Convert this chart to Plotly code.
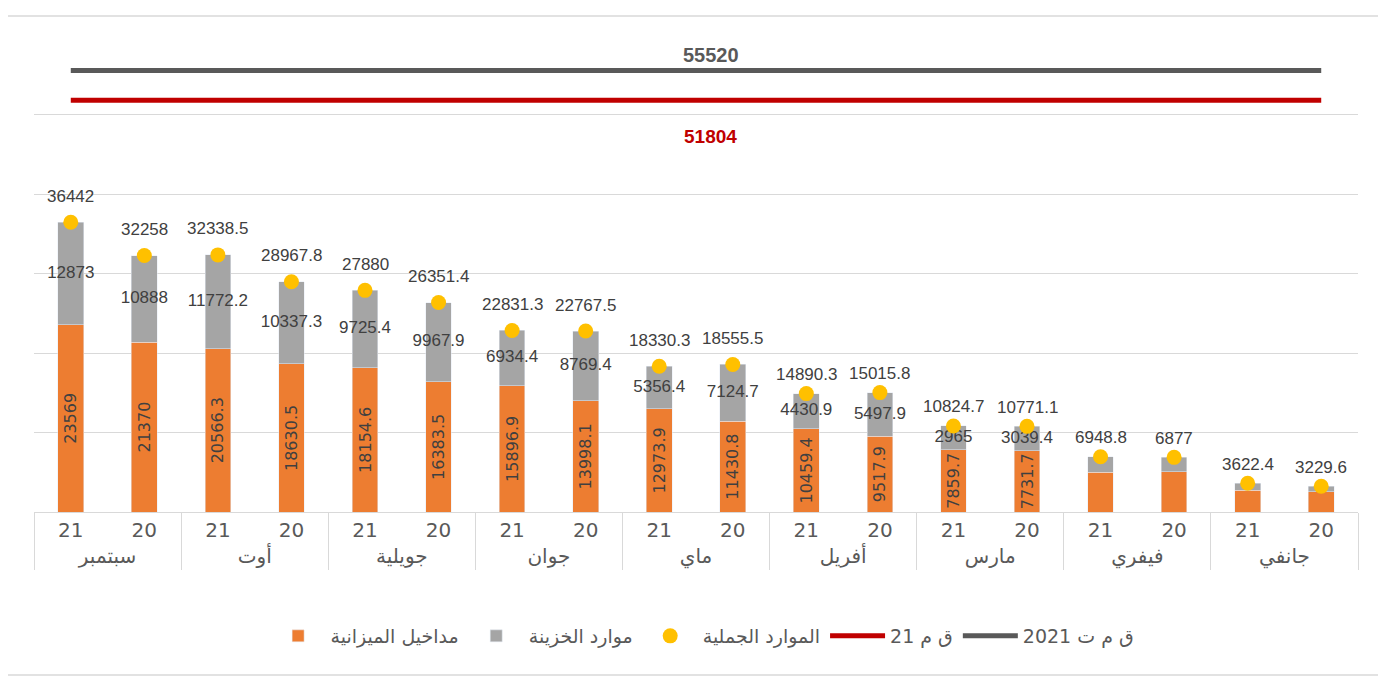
import plotly.graph_objects as go

# months shown right-to-left in the original (Sep .. Jan), years 21 / 20
months = ["سبتمبر", "أوت", "جويلية", "جوان", "ماي", "أفريل", "مارس", "فيفري", "جانفي"]
years = ["21", "20"]

# مداخيل الميزانية (budget revenue) per bar, in display order
budget = [23569, 21370, 20566.3, 18630.5, 18154.6, 16383.5, 15896.9, 13998.1,
          12973.9, 11430.8, 10459.4, 9517.9, 7859.7, 7731.7, 5000, 5040, 2740, 2560]
# موارد الخزينة (treasury resources)
treasury = [12873, 10888, 11772.2, 10337.3, 9725.4, 9967.9, 6934.4, 8769.4,
            5356.4, 7124.7, 4430.9, 5497.9, 2965, 3039.4, 1948.8, 1837, 882.4, 669.6]
# الموارد الجملية (total)
total = [36442, 32258, 32338.5, 28967.8, 27880, 26351.4, 22831.3, 22767.5,
         18330.3, 18555.5, 14890.3, 15015.8, 10824.7, 10771.1, 6948.8, 6877, 3622.4, 3229.6]
# which bars carry a label for the stacked parts
show_part_label = [True] * 14 + [False] * 4

lf_2021 = 55520   # ق م ت 2021
lf_21 = 51804     # ق م 21

outer = [m for m in months for _ in years]
inner = [y for _ in months for y in years]
x = [outer, inner]

def fmt(v):
    return f"{v:g}"

budget_txt = [fmt(v) if s else "" for v, s in zip(budget, show_part_label)]
treas_txt = [fmt(v) if s else "" for v, s in zip(treasury, show_part_label)]
total_txt = [fmt(v) for v in total]
treas_mid = [b + t / 2 for b, t in zip(budget, treasury)]

LBL = dict(family="Liberation Sans Narrow, Arial Narrow, Arial", size=17, color="#404040")

fig = go.Figure()
fig.add_trace(go.Bar(x=x, y=budget, name="مداخيل الميزانية", marker_color="#ED7D31",
                     width=0.35, text=budget_txt, texttemplate="%{text}",
                     textposition="inside", insidetextanchor="middle", textangle=-90,
                     insidetextfont=dict(family="DejaVu Sans, Arial", size=16, color="#404040"),
                     constraintext="none"))
fig.add_trace(go.Bar(x=x, y=treasury, name="موارد الخزينة", marker_color="#A5A5A5",
                     width=0.35, textposition="none"))
fig.add_trace(go.Scatter(x=x, y=treas_mid, mode="text", text=treas_txt, textfont=LBL,
                         showlegend=False, hoverinfo="skip"))
fig.add_trace(go.Scatter(x=x, y=total, name="الموارد الجملية", mode="markers",
                         marker=dict(color="#FFC000", size=15)))
fig.add_trace(go.Scatter(x=x, y=[lf_21] * len(inner), name="ق م 21", mode="lines",
                         line=dict(color="#C00000", width=5)))
fig.add_trace(go.Scatter(x=x, y=[lf_2021] * len(inner), name="ق م ت 2021", mode="lines",
                         line=dict(color="#595959", width=5)))

# total labels above the dots
for i, v in enumerate(total):
    fig.add_annotation(x=i, y=v, text=total_txt[i], showarrow=False,
                       yshift=26 if v > 18000 else 19, font=LBL)

fig.add_annotation(x=8.7, y=lf_2021, text="<b>%d</b>" % lf_2021, showarrow=False, yshift=16,
                   font=dict(family="Liberation Sans Narrow, Arial", size=20, color="#595959"))
fig.add_annotation(x=8.7, y=lf_21, text="<b>%d</b>" % lf_21, showarrow=False, yshift=-36,
                   font=dict(family="Liberation Sans Narrow, Arial", size=19, color="#C00000"))

# outer frame of the chart
fig.add_shape(type="rect", xref="paper", yref="paper", x0=-0.0205, x1=1.0165, y0=-0.3417, y1=1.0398,
              line=dict(color="#D9D9D9", width=1.5), fillcolor="rgba(0,0,0,0)")

fig.update_layout(
    barmode="stack",
    width=1386, height=677,
    margin=dict(l=26, r=36, t=27, b=173),
    plot_bgcolor="white", paper_bgcolor="white",
    font=dict(family="DejaVu Sans, Arial", color="#595959"),
    legend=dict(orientation="h", x=0.505, xanchor="center", y=-0.26, yanchor="middle",
                font=dict(size=19, color="#595959"), traceorder="normal", itemwidth=55),
    showlegend=True,
)
fig.update_xaxes(type="multicategory", range=[-0.5, 17.5], showline=True, linecolor="#D9D9D9",
                 linewidth=1, showdividers=True, dividercolor="#D9D9D9", dividerwidth=1,
                 tickfont=dict(size=20, color="#595959"), ticks="")
fig.update_yaxes(range=[0, 60000], dtick=10000, showticklabels=False, gridcolor="#D9D9D9",
                 gridwidth=1, zeroline=False)

fig.write_html("out.html")
